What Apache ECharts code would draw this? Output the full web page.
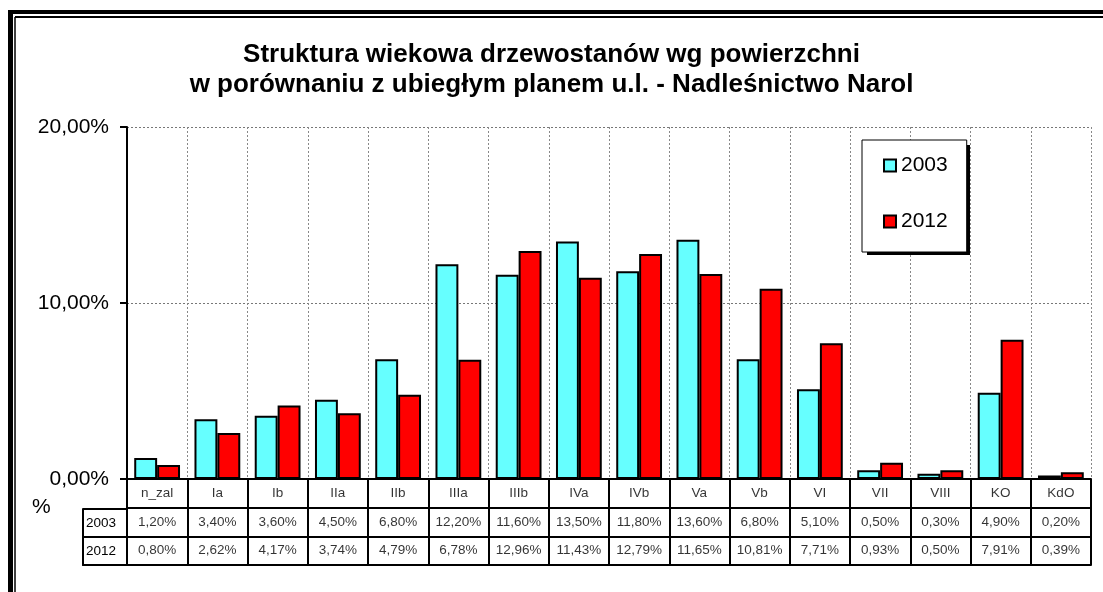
<!DOCTYPE html>
<html>
<head>
<meta charset="utf-8">
<script src="https://cdn.jsdelivr.net/npm/echarts@6/dist/echarts.min.js"></script>
<style>
  html, body { margin: 0; padding: 0; background: #fff; }
  #chart { width: 1103px; height: 592px; }
</style>
</head>
<body>
<div id="chart"></div>
<script>
  "use strict"

  const categories = ['n_zal', 'Ia', 'Ib', 'IIa', 'IIb', 'IIIa', 'IIIb', 'IVa', 'IVb', 'Va', 'Vb', 'VI', 'VII', 'VIII', 'KO', 'KdO'];
  const values2003 = [1.20, 3.40, 3.60, 4.50, 6.80, 12.20, 11.60, 13.50, 11.80, 13.60, 6.80, 5.10, 0.50, 0.30, 4.90, 0.20];
  const values2012 = [0.80, 2.62, 4.17, 3.74, 4.79, 6.78, 12.96, 11.43, 12.79, 11.65, 10.81, 7.71, 0.93, 0.50, 7.91, 0.39];
  const seriesNames = ['2003', '2012'];
  const rowLabels = ['2012', '2003'];

  const FONT = 'Liberation Sans, Arial, sans-serif';
  const pct = v => v.toFixed(2).replace('.', ',') + '%';

  // table cell texts, placed through the table grid's axes
  const tableCells = [];
  categories.forEach((c, i) => {
    tableCells.push({ name: c, value: [i, 2.5] });
    tableCells.push({ name: pct(values2003[i]), value: [i, 1.5] });
    tableCells.push({ name: pct(values2012[i]), value: [i, 0.5] });
  });

  const chart = echarts.init(document.getElementById('chart'), null, { renderer: 'canvas' });

  const option = {
    animation: false,
    backgroundColor: '#fff',
    textStyle: { fontFamily: FONT },
    title: {
      text: 'Struktura wiekowa drzewostanów wg powierzchni\nw porównaniu z ubiegłym planem u.l. - Nadleśnictwo Narol',
      left: 'center',
      top: 40,
      padding: [0, 0, 0, 14],
      textStyle: { fontFamily: FONT, fontSize: 26, fontWeight: 'bold', color: '#000', lineHeight: 30 }
    },
    legend: {
      data: seriesNames,
      orient: 'vertical',
      left: 862,
      top: 140,
      z: 5,
      padding: [15, 19, 20, 21],
      itemGap: 35,
      itemWidth: 12,
      itemHeight: 12,
      icon: 'rect',
      backgroundColor: '#fff',
      borderColor: '#000',
      borderWidth: 1,
      textStyle: { fontFamily: FONT, fontSize: 21, color: '#000' }
    },
    grid: [
      { left: 127, top: 127, width: 964, height: 352 },
      { left: 127, top: 479, width: 964, height: 86 },
      { left: 83, top: 509, width: 44, height: 56 }
    ],
    xAxis: [
      {
        gridIndex: 0, type: 'category', data: categories,
        axisLine: { show: true, lineStyle: { color: '#000', width: 2 } },
        axisTick: { show: false },
        axisLabel: { show: false },
        splitLine: { show: true, interval: 0, lineStyle: { color: '#888', type: [2, 2], width: 1 } }
      },
      {
        gridIndex: 1, type: 'category', data: categories,
        axisLine: { show: true, lineStyle: { color: '#000', width: 2 } },
        axisTick: { show: false },
        axisLabel: { show: false },
        splitLine: { show: true, interval: 0, lineStyle: { color: '#000', width: 2 } }
      },
      {
        gridIndex: 2, type: 'category', data: [''],
        axisLine: { show: true, lineStyle: { color: '#000', width: 2 } },
        axisTick: { show: false },
        axisLabel: { show: false },
        splitLine: { show: true, interval: 0, lineStyle: { color: '#000', width: 2 } }
      }
    ],
    yAxis: [
      {
        gridIndex: 0, type: 'value', min: 0, max: 20, interval: 10,
        axisLine: { show: true, lineStyle: { color: '#000', width: 2 } },
        axisTick: { show: true, length: 7, lineStyle: { color: '#000', width: 2 } },
        axisLabel: { formatter: v => pct(v), fontFamily: FONT, fontSize: 21, color: '#000', margin: 18 },
        splitLine: { show: true, lineStyle: { color: '#777', type: [2, 2], width: 1 } }
      },
      {
        gridIndex: 1, type: 'value', min: 0, max: 3, interval: 1,
        axisLine: { show: true, lineStyle: { color: '#000', width: 2 } },
        axisTick: { show: false },
        axisLabel: { show: false },
        splitLine: { show: true, lineStyle: { color: '#000', width: 2 } }
      },
      {
        gridIndex: 2, type: 'category', data: rowLabels,
        axisLine: { show: true, lineStyle: { color: '#000', width: 2 } },
        axisTick: { show: false },
        axisLabel: { inside: true, margin: 3, fontFamily: FONT, fontSize: 13.5, color: '#000' },
        splitLine: { show: true, interval: 0, lineStyle: { color: '#000', width: 2 } }
      }
    ],
    series: [
      {
        name: seriesNames[0], type: 'bar', xAxisIndex: 0, yAxisIndex: 0,
        data: values2003, barGap: '0%', barCategoryGap: '24%',
        itemStyle: { color: '#66FFFF', borderColor: '#000', borderWidth: 2 }
      },
      {
        name: seriesNames[1], type: 'bar', xAxisIndex: 0, yAxisIndex: 0,
        data: values2012, barGap: '0%', barCategoryGap: '24%',
        itemStyle: { color: '#FF0000', borderColor: '#000', borderWidth: 2 }
      },
      {
        name: 'table', type: 'scatter', xAxisIndex: 1, yAxisIndex: 1,
        data: tableCells, symbolSize: 1, silent: true,
        itemStyle: { color: 'rgba(0,0,0,0)' },
        label: { show: true, position: 'inside', formatter: '{b}', fontFamily: FONT, fontSize: 13.5, color: '#000' }
      }
    ],
    graphic: [
      // double frame round the chart
      { type: 'line', shape: { x1: 10.5, y1: 10, x2: 10.5, y2: 600 }, style: { stroke: '#000', lineWidth: 5 } },
      { type: 'line', shape: { x1: 8, y1: 12, x2: 1110, y2: 12 }, style: { stroke: '#000', lineWidth: 4 } },
      { type: 'line', shape: { x1: 15, y1: 17, x2: 15, y2: 600 }, style: { stroke: '#000', lineWidth: 1.5 } },
      { type: 'line', shape: { x1: 15, y1: 17, x2: 1110, y2: 17 }, style: { stroke: '#000', lineWidth: 2 } },
      // legend drop shadow
      { type: 'rect', z: 4, shape: { x: 867, y: 145, width: 103, height: 110 }, style: { fill: '#000' } },
      { type: 'text', left: 32, top: 497, style: { text: '%', font: '21px ' + FONT, fill: '#000' } }
    ]
  };

  chart.setOption(option);
  window.addEventListener('resize', () => chart.resize());
</script>
</body>
</html>
